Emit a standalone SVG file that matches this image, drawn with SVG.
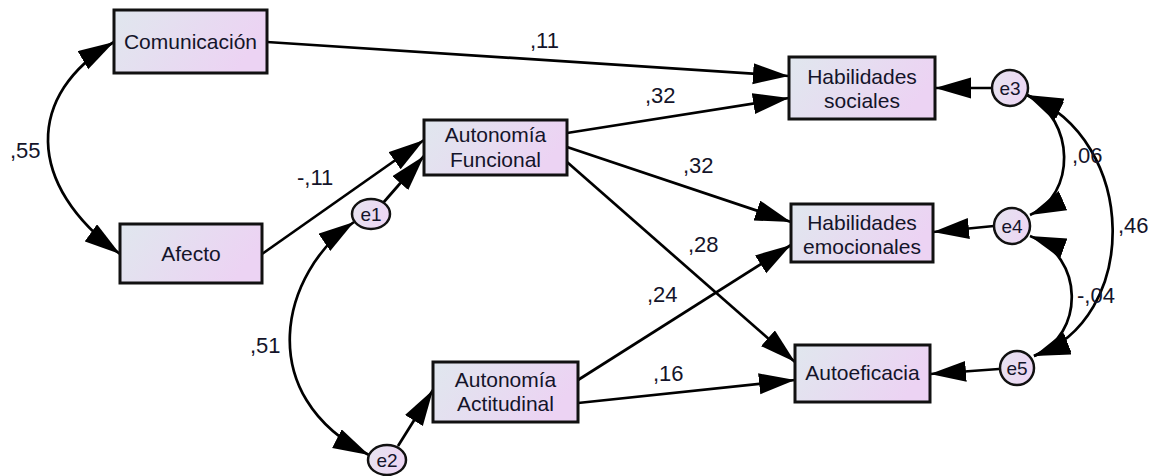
<svg xmlns="http://www.w3.org/2000/svg" width="1160" height="476" viewBox="0 0 1160 476">
  <style>
    .box { stroke: #111; stroke-width: 3; fill: url(#boxFill); }
    .err { stroke: #111; stroke-width: 2.5; fill: url(#errFill); }
    .t { font-family: "Liberation Sans", Arial, sans-serif; font-size: 21px; fill: #14142a; text-anchor: middle; }
    .e { font-family: "Liberation Sans", Arial, sans-serif; font-size: 19px; fill: #14142a; text-anchor: middle; }
    .lbl { font-family: "Liberation Sans", Arial, sans-serif; font-size: 22px; fill: #14142a; }
    .c { fill: none; stroke: #000; stroke-width: 2.7; marker-end: url(#arr); }
    .cov { fill: none; stroke: #000; stroke-width: 2.7; marker-start: url(#arr); marker-end: url(#arr); }
  </style>
  <defs>
    <linearGradient id="boxFill" x1="0" y1="0" x2="1" y2="0.3">
      <stop offset="0" stop-color="#e0e7ee"/>
      <stop offset="1" stop-color="#ecd3f3"/>
    </linearGradient>
    <linearGradient id="errFill" x1="0" y1="0" x2="1" y2="0.3">
      <stop offset="0" stop-color="#e6e4f0"/>
      <stop offset="1" stop-color="#ecd6f3"/>
    </linearGradient>
    <marker id="arr" markerUnits="userSpaceOnUse" markerWidth="38" markerHeight="22" refX="36" refY="10.5" orient="auto-start-reverse" viewBox="0 0 38 22">
      <path d="M0,0 L36,10.5 L0,21 z" fill="#000"/>
    </marker>
  </defs>

  <rect width="1160" height="476" fill="#fff"/>

  <!-- connectors: regression paths and covariances -->
  <g id="connectors">
    <path class="c" d="M267,42 L789,76"/>
    <path class="c" d="M567,133 L789,98"/>
    <path class="c" d="M567,147 L791,222"/>
    <path class="c" d="M567,162 L795,362"/>
    <path class="c" d="M262,254 L424,140"/>
    <path class="c" d="M383,203 L424,156"/>
    <path class="c" d="M398,446 L433,390"/>
    <path class="c" d="M578,380 L791,245"/>
    <path class="c" d="M578,403 L795,380"/>
    <path class="c" d="M992,88 L935,88"/>
    <path class="c" d="M994,226 L933,232"/>
    <path class="c" d="M999,369 L930,374"/>

    <path class="cov" d="M114,42 C25,94 25,185 120,254"/>
    <path class="cov" d="M354,222 C281,272 251,395 369,455"/>
    <path class="cov" d="M1027,95 C1076,120 1076,195 1030,215"/>
    <path class="cov" d="M1030,236 C1085,256 1085,335 1034,356"/>
    <path class="cov" d="M1027,95 C1140,140 1140,320 1034,356"/>

    <text class="lbl" x="530" y="48">,11</text>
    <text class="lbl" x="645" y="103">,32</text>
    <text class="lbl" x="683" y="173">,32</text>
    <text class="lbl" x="688" y="252">,28</text>
    <text class="lbl" x="647" y="302">,24</text>
    <text class="lbl" x="653" y="381">,16</text>
    <text class="lbl" x="297" y="185">-,11</text>
    <text class="lbl" x="10" y="158">,55</text>
    <text class="lbl" x="250" y="353">,51</text>
    <text class="lbl" x="1072" y="163">,06</text>
    <text class="lbl" x="1118" y="233">,46</text>
    <text class="lbl" x="1077" y="303">-,04</text>
  </g>

  <!-- observed variables -->
  <g id="comunicacion">
    <rect class="box" x="114" y="10" width="153" height="63"/>
    <text class="t" x="190.5" y="49">Comunicación</text>
  </g>
  <g id="afecto">
    <rect class="box" x="120" y="224" width="142" height="59"/>
    <text class="t" x="191" y="261">Afecto</text>
  </g>
  <g id="autonomia-funcional">
    <rect class="box" x="424" y="120" width="143" height="55"/>
    <text class="t" x="495.5" y="142">Autonomía</text>
    <text class="t" x="495.5" y="167">Funcional</text>
  </g>
  <g id="autonomia-actitudinal">
    <rect class="box" x="433" y="362" width="145" height="60"/>
    <text class="t" x="505.5" y="387">Autonomía</text>
    <text class="t" x="505.5" y="411">Actitudinal</text>
  </g>
  <g id="habilidades-sociales">
    <rect class="box" x="789" y="57" width="146" height="62"/>
    <text class="t" x="862" y="84">Habilidades</text>
    <text class="t" x="862" y="108">sociales</text>
  </g>
  <g id="habilidades-emocionales">
    <rect class="box" x="791" y="204" width="142" height="58"/>
    <text class="t" x="862" y="230">Habilidades</text>
    <text class="t" x="862" y="254">emocionales</text>
  </g>
  <g id="autoeficacia">
    <rect class="box" x="795" y="345" width="135" height="57"/>
    <text class="t" x="862.5" y="380">Autoeficacia</text>
  </g>

  <!-- error terms -->
  <g id="e1">
    <ellipse class="err" cx="371" cy="214" rx="19" ry="15"/>
    <text class="e" x="371" y="221">e1</text>
  </g>
  <g id="e2">
    <ellipse class="err" cx="387" cy="460" rx="19" ry="15"/>
    <text class="e" x="387" y="467">e2</text>
  </g>
  <g id="e3">
    <circle class="err" cx="1010" cy="88" r="18"/>
    <text class="e" x="1010" y="95">e3</text>
  </g>
  <g id="e4">
    <circle class="err" cx="1012" cy="226" r="18"/>
    <text class="e" x="1012" y="233">e4</text>
  </g>
  <g id="e5">
    <circle class="err" cx="1017" cy="368" r="17"/>
    <text class="e" x="1017" y="375">e5</text>
  </g>
</svg>
